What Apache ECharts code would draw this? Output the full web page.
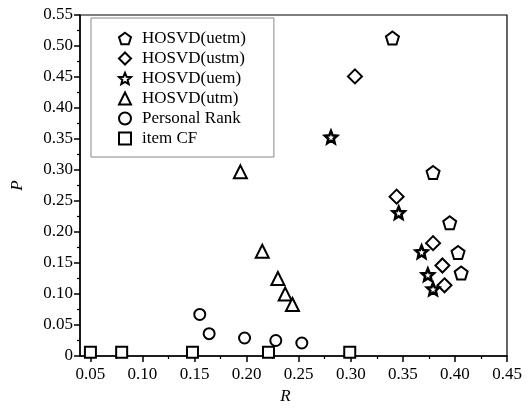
<!DOCTYPE html>
<html>
<head>
<meta charset="utf-8">
<script src="https://cdn.jsdelivr.net/npm/echarts@6/dist/echarts.min.js"></script>
<style>
  html, body { margin: 0; padding: 0; background: #fff; }
  #chart { width: 529px; height: 412px; }
</style>
</head>
<body>
<div id="chart"></div>
<script>
// series data: [R, P]
const uetm = [[0.340, 0.513], [0.379, 0.296], [0.395, 0.215], [0.403, 0.167], [0.406, 0.134]]
const ustm = [[0.304, 0.451], [0.344, 0.257], [0.379, 0.182], [0.388, 0.146], [0.390, 0.114]]
const uem = [[0.281, 0.353], [0.346, 0.231], [0.368, 0.168], [0.374, 0.131], [0.379, 0.108]]
const utm = [[0.194, 0.297], [0.215, 0.169], [0.230, 0.125], [0.237, 0.100], [0.244, 0.083]]
const personalRank = [[0.155, 0.067], [0.164, 0.036], [0.198, 0.029], [0.228, 0.025], [0.253, 0.021]]
const itemCF = [[0.050, 0.006], [0.080, 0.006], [0.148, 0.006], [0.221, 0.006], [0.299, 0.006]]

const seriesNames = ['HOSVD(uetm)', 'HOSVD(ustm)', 'HOSVD(uem)', 'HOSVD(utm)', 'Personal Rank', 'item CF']
const xTicks = [0.05, 0.10, 0.15, 0.20, 0.25, 0.30, 0.35, 0.40, 0.45]
const xMinorTicks = [0.075, 0.125, 0.175, 0.225, 0.275, 0.325, 0.375, 0.425]

// marker shapes
const pentagon = 'path://M0,-1 L0.951,-0.309 L0.588,0.809 L-0.588,0.809 L-0.951,-0.309 Z'
const star = 'path://M0,-1 L0.265,-0.364 L0.951,-0.309 L0.428,0.139 L0.588,0.809 L0,0.45 L-0.588,0.809 L-0.428,0.139 L-0.951,-0.309 L-0.265,-0.364 Z'

const font = 'Liberation Serif'
const chart = echarts.init(document.getElementById('chart'))

function mk(name, data, symbol, size, bw) {
  return {
    name: name,
    type: 'scatter',
    data: data,
    symbol: symbol,
    symbolSize: size,
    itemStyle: { color: '#fff', borderColor: '#000', borderWidth: bw || 2, opacity: 1 },
    emphasis: { disabled: true }
  }
}

chart.setOption({
  animation: false,
  grid: {
    left: 80, right: 22, top: 15, bottom: 56,
    show: true, borderColor: '#000', borderWidth: 1.2
  },
  legend: {
    orient: 'vertical',
    left: 91, top: 18,
    padding: [12, 28, 10, 27],
    itemWidth: 12, itemHeight: 12, itemGap: 3,
    itemStyle: { borderWidth: 2, borderColor: '#000', color: '#fff' },
    borderColor: '#888', borderWidth: 1,
    backgroundColor: '#fff',
    data: seriesNames,
    textStyle: { fontFamily: font, fontSize: 17, color: '#000', padding: [0, 0, 0, 6] }
  },
  xAxis: [
    {
      type: 'value', min: 0.04, max: 0.45,
      name: 'R', nameLocation: 'middle', nameGap: 31,
      nameTextStyle: { fontFamily: font, fontSize: 17, fontStyle: 'italic', color: '#000', padding: [0, 16, 0, 0] },
      axisLine: { onZero: false, lineStyle: { color: '#000', width: 1.5 } },
      axisTick: { show: true, length: 6, customValues: xTicks, lineStyle: { color: '#000', width: 1.5 } },
      axisLabel: {
        customValues: xTicks, margin: 10, color: '#000', fontFamily: font, fontSize: 17,
        formatter: v => v.toFixed(2)
      },
      splitLine: { show: false }
    },
    {
      type: 'value', min: 0.04, max: 0.45, position: 'bottom', offset: 0,
      axisLine: { show: false },
      axisTick: { show: true, length: 3, customValues: xMinorTicks, lineStyle: { color: '#000', width: 1.2 } },
      axisLabel: { show: false },
      splitLine: { show: false }
    }
  ],
  yAxis: {
    type: 'value', min: 0, max: 0.55, interval: 0.05,
    name: 'P', nameLocation: 'middle', nameGap: 54,
    nameTextStyle: { fontFamily: font, fontSize: 17, fontStyle: 'italic', color: '#000' },
    axisLine: { show: true, lineStyle: { color: '#000', width: 1.5 } },
    axisTick: { show: true, length: 6, lineStyle: { color: '#000', width: 1.5 } },
    minorTick: { show: true, splitNumber: 2, length: 3, lineStyle: { color: '#000', width: 1.2 } },
    axisLabel: {
      margin: 7, color: '#000', fontFamily: font, fontSize: 17,
      formatter: v => v === 0 ? '0' : v.toFixed(2)
    },
    splitLine: { show: false }
  },
  series: [
    mk(seriesNames[0], uetm, pentagon, 13),
    mk(seriesNames[1], ustm, 'diamond', 14),
    mk(seriesNames[2], uem, star, 12, 2.6),
    mk(seriesNames[3], utm, 'triangle', 13),
    mk(seriesNames[4], personalRank, 'circle', 11),
    mk(seriesNames[5], itemCF, 'rect', 11)
  ]
})
</script>
</body>
</html>
